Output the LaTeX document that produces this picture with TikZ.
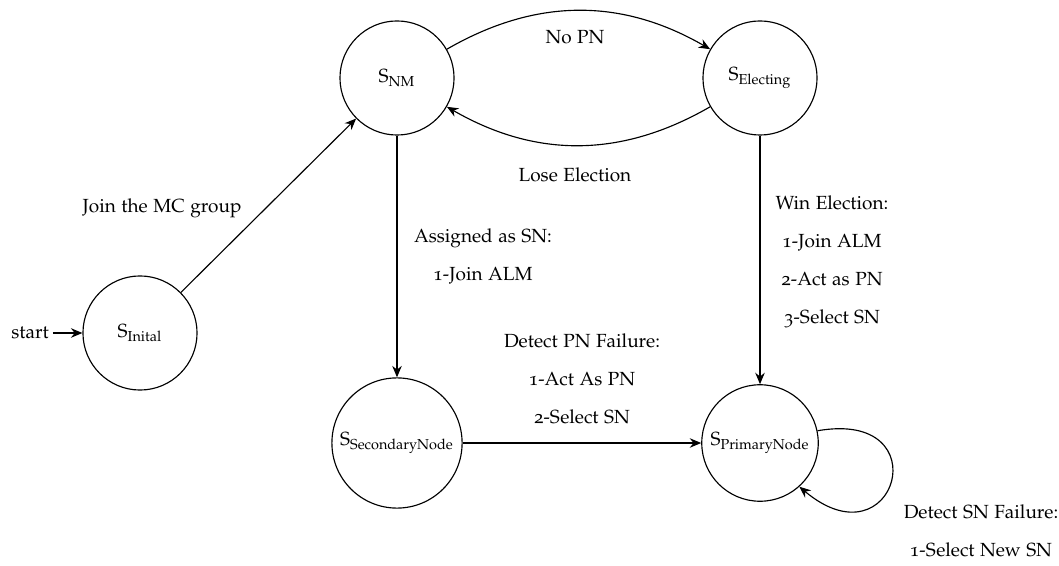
\documentclass[tikz,border=0pt]{standalone}
\usepackage[T1]{fontenc}
\usepackage[osf]{mathpazo}
\usetikzlibrary{arrows.meta}

\newcommand{\stname}[1]{$\mathrm{S}_{\mathrm{#1}}$}

\begin{document}
\begin{tikzpicture}[x=0.526pt,y=0.526pt,
  state/.style={circle,draw,semithick,minimum size=60pt,inner sep=3.3pt},
  trans/.style={semithick,-{Stealth[length=6pt,width=5pt]}},
  lbl/.style={align=center,inner sep=0pt}]
  \useasboundingbox (0,0) rectangle (1059,565);

  % states
  \node[state] (init) at (140,232) {\stname{Inital}};
  \node[state] (nm)   at (397,487) {\stname{NM}};
  \node[state] (el)   at (760,487) {\stname{Electing}};
  \node[state] (sec)  at (397,122) {\stname{SecondaryNode}};
  \node[state] (pri)  at (760,122) {\stname{PrimaryNode}};
  \node[inner sep=2pt] (start) at (30,232) {start};

  % transitions
  \draw[trans] (start) -- (init);
  \draw[trans] (init) -- (nm);
  \draw[trans] (nm) to[bend left=30] (el);
  \draw[trans] (el) to[bend left=30] (nm);
  \draw[trans] (nm) -- (sec);
  \draw[trans] (el) -- (pri);
  \draw[trans] (sec) -- (pri);
  \draw[trans] (pri.12) to[out=10,in=-40,distance=66pt] (pri.-48);

  % transition labels
  \node[lbl] (ljoin) at (162,357) {Join the MC group};
  \node[lbl] (lnopn) at (575,528) {No PN};
  \node[lbl] (llose) at (575,390) {Lose Election};
  \node[lbl] (lsn)   at (483,309) {Assigned as SN:\\[8pt]1-Join ALM};
  \node[lbl] (lwin)  at (832,303.5) {Win Election:\\[8pt]1-Join ALM\\[8pt]2-Act as PN\\[8pt]3-Select SN};
  \node[lbl] (lpnf)  at (582,186) {Detect PN Failure:\\[8pt]1-Act As PN\\[8pt]2-Select SN};
  \node[lbl] (lsnf)  at (981,34)  {Detect SN Failure:\\[8pt]1-Select New SN};
\end{tikzpicture}
\end{document}
